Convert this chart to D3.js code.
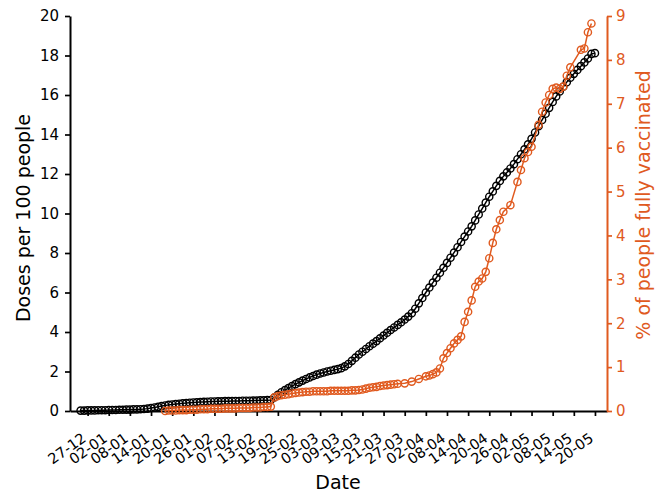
<!DOCTYPE html>
<html>
<head>
<meta charset="utf-8">
<script src="https://cdn.jsdelivr.net/npm/d3@7"></script>
<style>
  html, body { margin: 0; padding: 0; background: #fff; }
  svg { display: block; font-family: "DejaVu Sans", sans-serif; }
</style>
</head>
<body>
<svg id="chart" width="668" height="495"></svg>
<script>
// ---------------- DATA ----------------
// Doses per 100 people, daily from 25-12-2020
const dosesStart = "2020-12-25";
const dosesValues = [
  0.02,0.02,0.03,0.03,0.03,0.04,0.04,0.04,0.05,0.05,0.05,0.06,0.06,0.07,0.07,0.08,0.08,0.09,
  0.10,0.12,0.15,0.18,0.21,0.25,0.28,0.31,0.33,0.35,0.37,0.39,0.40,0.42,0.43,0.44,0.45,0.46,
  0.47,0.48,0.48,0.49,0.49,0.50,0.50,0.51,0.51,0.51,0.52,0.52,0.52,0.53,0.53,0.54,0.54,0.55,0.56,
  0.68,0.82,0.95,1.06,1.16,1.26,1.36,1.45,1.54,1.62,1.70,1.77,1.84,1.90,1.95,2.00,2.04,2.08,
  2.12,2.17,2.26,2.38,2.54,2.70,2.86,3.00,3.14,3.28,3.41,3.54,3.68,3.82,3.96,4.10,4.23,4.36,
  4.49,4.63,4.78,4.95,5.18,5.45,5.72,6.00,6.25,6.50,6.75,7.00,
  7.25,7.50,7.76,8.02,8.29,8.56,8.83,9.09,9.35,9.65,9.95,10.25,10.55,10.85,11.12,11.40,11.65,
  11.88,12.08,12.28,12.50,12.75,13.00,13.25,13.50,13.78,14.10,14.42,14.74,15.05,15.35,15.65,
  15.93,16.18,16.42,16.65,16.87,17.07,17.27,17.46,17.65,17.85,18.08,18.12
];
// % of people fully vaccinated, daily from 18-01-2021 (null = no report that day)
const fullyStart = "2021-01-18";
const fullyValues = [
  0.00,0.01,0.01,0.01,0.02,0.02,0.02,0.03,0.03,0.03,0.04,0.04,0.04,0.05,0.05,0.05,0.05,
  0.06,0.06,0.06,0.06,0.07,0.07,0.07,0.07,0.08,0.08,0.08,0.09,0.09,0.10,
  0.31,0.34,0.36,0.37,0.38,0.40,0.41,0.42,0.43,0.44,
  0.44,0.45,0.45,0.45,0.45,0.45,0.46,0.46,0.46,0.46,
  0.46,0.46,0.47,0.47,0.48,0.49,0.51,0.53,0.54,0.55,
  0.57,0.58,0.59,0.60,0.61,0.62,null,0.63,null,0.67,
  null,0.73,null,0.79,0.81,0.84,0.88,0.97,
  1.20,1.32,1.43,1.54,1.62,1.70,2.03,2.26,2.52,2.83,2.95,3.02,3.17,3.48,3.83,4.14,4.35,4.54,
  null,4.69,null,5.22,5.49,5.76,5.90,6.02,null,6.52,6.82,7.03,7.20,7.34,7.37,7.34,7.39,7.64,
  7.83,null,null,8.23,8.26,8.63,8.83
];
const xTickLabels = ["27-12","02-01","08-01","14-01","20-01","26-01","01-02","07-02","13-02",
  "19-02","25-02","03-03","09-03","15-03","21-03","27-03","02-04","08-04","14-04","20-04",
  "26-04","02-05","08-05","14-05","20-05"];
const leftTicks = [0,2,4,6,8,10,12,14,16,18,20];
const rightTicks = [0,1,2,3,4,5,6,7,8,9];
const xLabel = "Date";
const leftLabel = "Doses per 100 people";
const rightLabel = "% of people fully vaccinated";

// ---------------- LAYOUT ----------------
const BLACK = "#000000";
const ORANGE = "#e05a1f";
const L = 70, R = 607, T = 16, B = 411;
const svg = d3.select("#chart");

function parseDay(s) { const p = s.split("-").map(Number); return new Date(p[0], p[1]-1, p[2]); }
function addDays(d, n) { return new Date(d.getFullYear(), d.getMonth(), d.getDate() + n); }
function labelDate(lbl) {
  const [dd, mm] = lbl.split("-").map(Number);
  return new Date(mm === 12 ? 2020 : 2021, mm - 1, dd);
}

const x = d3.scaleTime()
  .domain([new Date(2020, 11, 22), new Date(2021, 4, 23, 10)])
  .range([L, R]);
const yL = d3.scaleLinear().domain([0, 20]).range([B, T]);
const yR = d3.scaleLinear().domain([0, 9]).range([B, T]);

const d0 = parseDay(dosesStart);
const doses = dosesValues.map((v, i) => ({ date: addDays(d0, i), v }));
const f0 = parseDay(fullyStart);
const fully = fullyValues.map((v, i) => ({ date: addDays(f0, i), v })).filter(d => d.v !== null);

// ---------------- AXES ----------------
const tickDates = xTickLabels.map(labelDate);
const xAxis = svg.append("g").attr("transform", `translate(0,${B})`)
  .call(d3.axisBottom(x).tickValues(tickDates).tickFormat((d, i) => xTickLabels[i])
    .tickSize(5).tickSizeOuter(0));
xAxis.attr("font-size", null);
xAxis.select(".domain").attr("stroke", BLACK).attr("stroke-width", 2);
xAxis.selectAll(".tick line").attr("stroke", BLACK).attr("stroke-width", 1.7);
xAxis.selectAll(".tick text")
  .attr("x", 0).attr("y", 0).attr("dy", 0)
  .attr("text-anchor", "end")
  .attr("transform", "translate(-1,29.5) rotate(-35)")
  .attr("fill", BLACK)
  .style("font-size", "14.5px").style("font-family", "DejaVu Sans");

const leftAxis = svg.append("g").attr("transform", `translate(${L},0)`)
  .call(d3.axisLeft(yL).tickValues(leftTicks).tickFormat(d3.format("d")).tickSize(5).tickPadding(6).tickSizeOuter(0));
leftAxis.attr("font-size", null);
leftAxis.select(".domain").attr("stroke", BLACK).attr("stroke-width", 2);
leftAxis.selectAll(".tick line").attr("stroke", BLACK).attr("stroke-width", 1.7);
leftAxis.selectAll(".tick text").attr("fill", BLACK)
  .style("font-size", "15px").style("font-family", "DejaVu Sans");

const rightAxis = svg.append("g").attr("transform", `translate(${R},0)`)
  .call(d3.axisRight(yR).tickValues(rightTicks).tickFormat(d3.format("d")).tickSize(5).tickPadding(4).tickSizeOuter(0));
rightAxis.attr("font-size", null);
rightAxis.select(".domain").attr("stroke", ORANGE).attr("stroke-width", 2);
rightAxis.selectAll(".tick line").attr("stroke", ORANGE).attr("stroke-width", 1.7);
rightAxis.selectAll(".tick text").attr("fill", ORANGE)
  .style("font-size", "15px").style("font-family", "DejaVu Sans");

// Axis labels
svg.append("text").attr("x", 338).attr("y", 489).attr("text-anchor", "middle")
  .style("font-size", "19px").attr("fill", BLACK).text(xLabel);
svg.append("text").attr("transform", "translate(29.5,218) rotate(-90)").attr("text-anchor", "middle")
  .style("font-size", "19px").attr("fill", BLACK).text(leftLabel);
svg.append("text").attr("transform", "translate(650,205) rotate(-90)").attr("text-anchor", "middle")
  .style("font-size", "19px").attr("fill", ORANGE).text(rightLabel);

// ---------------- SERIES ----------------
function drawSeries(data, yScale, color) {
  const g = svg.append("g");
  g.append("path").datum(data)
    .attr("fill", "none").attr("stroke", color).attr("stroke-width", 1.5)
    .attr("d", d3.line().x(d => x(d.date)).y(d => yScale(d.v)));
  g.selectAll("circle").data(data).join("circle")
    .attr("cx", d => x(d.date)).attr("cy", d => yScale(d.v)).attr("r", 3.6)
    .attr("fill", "none").attr("stroke", color).attr("stroke-width", 1.4);
}
drawSeries(doses, yL, BLACK);
drawSeries(fully, yR, ORANGE);
</script>
</body>
</html>
